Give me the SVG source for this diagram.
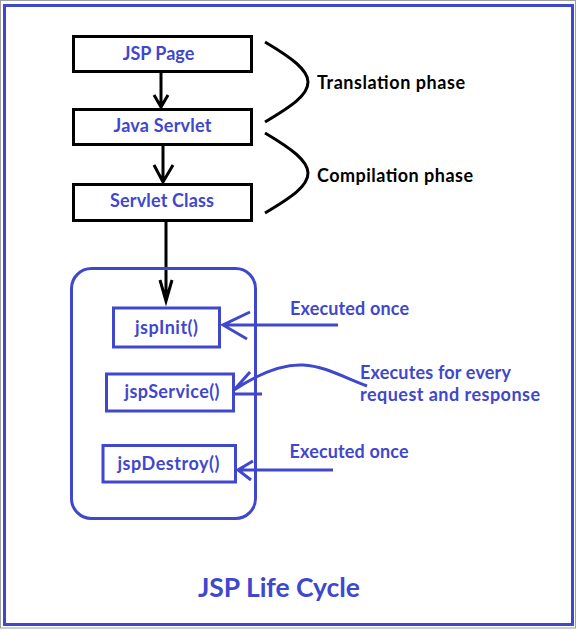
<svg xmlns="http://www.w3.org/2000/svg" width="576" height="630" viewBox="0 0 576 630">
<defs>
<style>
.blk{fill:none;stroke:#000;stroke-width:3}
.blu{fill:none;stroke:#3F48CC;stroke-width:3}
.box{fill:#fff;stroke:#000;stroke-width:3}
.mbox{fill:#fff;stroke:#3F48CC;stroke-width:3}
text{font-family:Lato,"Liberation Sans",sans-serif;font-weight:bold}
.nt{fill:#3F48CC;font-size:18px;text-anchor:middle}
.lb{fill:#000;font-size:18px}
.bl{fill:#3F48CC;font-size:18px}
</style>
</defs>
<rect x="0" y="0" width="576" height="630" fill="#fff"/>
<rect x="0.5" y="0.5" width="575" height="627.5" fill="none" stroke="#A0A0A0" stroke-width="1"/>
<rect x="4.5" y="5.5" width="568" height="619" fill="none" stroke="#3F48CC" stroke-width="3"/>

<g id="connectors">
<path class="blk" d="M161,73 V107 M154,95 L161,107 L168,95"/>
<path class="blk" d="M163,146 V182 M154,165 L163,182 L173,165"/>
<path class="blk" d="M166,222 V301 M160,280 L166,301 L172,280"/>
<path class="blk" d="M265,42 C292,58 308,70 308,82 C308,95 292,106 265,122"/>
<path class="blk" d="M265,133 C292,149 308,161 308,173 C308,186 292,197 265,213"/>
<path class="blu" d="M338,325 H223 M250,312 L223,325 L247,339"/>
<path class="blu" d="M367,386 C345,378 325,366 303,365 C280,364 255,376 234,390 M250,372 L234,390 M235,394 H262"/>
<path class="blu" d="M333,470 H238 M253,461 L238,470 L251,480"/>
</g>

<g id="jsp-page">
<rect class="box" x="73.5" y="36.5" width="178" height="35"/>
<text class="nt" x="158.5" y="60" textLength="71.5">JSP Page</text>
</g>
<g id="java-servlet">
<rect class="box" x="73.5" y="109.5" width="178" height="35"/>
<text class="nt" x="162.5" y="132" textLength="98">Java Servlet</text>
</g>
<g id="servlet-class">
<rect class="box" x="73.5" y="184.5" width="178" height="36"/>
<text class="nt" x="162" y="207" textLength="104">Servlet Class</text>
</g>
<g id="translation-label">
<text class="lb" x="317" y="88.5" textLength="148">Translation phase</text>
</g>
<g id="compilation-label">
<text class="lb" x="317" y="181.5" textLength="156">Compilation phase</text>
</g>
<g id="lifecycle-container">
<rect class="blu" x="71.5" y="268.5" width="184" height="250" rx="20"/>
</g>
<g id="jspinit">
<rect class="mbox" x="113.5" y="308" width="106" height="39"/>
<text class="nt" x="166.5" y="333.5" textLength="63">jspInit()</text>
</g>
<g id="jspservice">
<rect class="mbox" x="106.5" y="374" width="127" height="37"/>
<text class="nt" x="172" y="397.5" textLength="95">jspService()</text>
</g>
<g id="jspdestroy">
<rect class="mbox" x="103" y="445.5" width="132.5" height="36.5"/>
<text class="nt" x="168.5" y="470" textLength="102">jspDestroy()</text>
</g>
<g id="label-init">
<text class="bl" x="290" y="314.5" textLength="119">Executed once</text>
</g>
<g id="label-service">
<text class="bl" x="360" y="378.5" textLength="151">Executes for every</text>
<text class="bl" x="360" y="401" textLength="180">request and response</text>
</g>
<g id="label-destroy">
<text class="bl" x="289.5" y="457.5" textLength="119">Executed once</text>
</g>
<g id="title">
<text x="279" y="597" textLength="162" style="fill:#3F48CC;font-size:26.5px;text-anchor:middle">JSP Life Cycle</text>
</g>
</svg>
